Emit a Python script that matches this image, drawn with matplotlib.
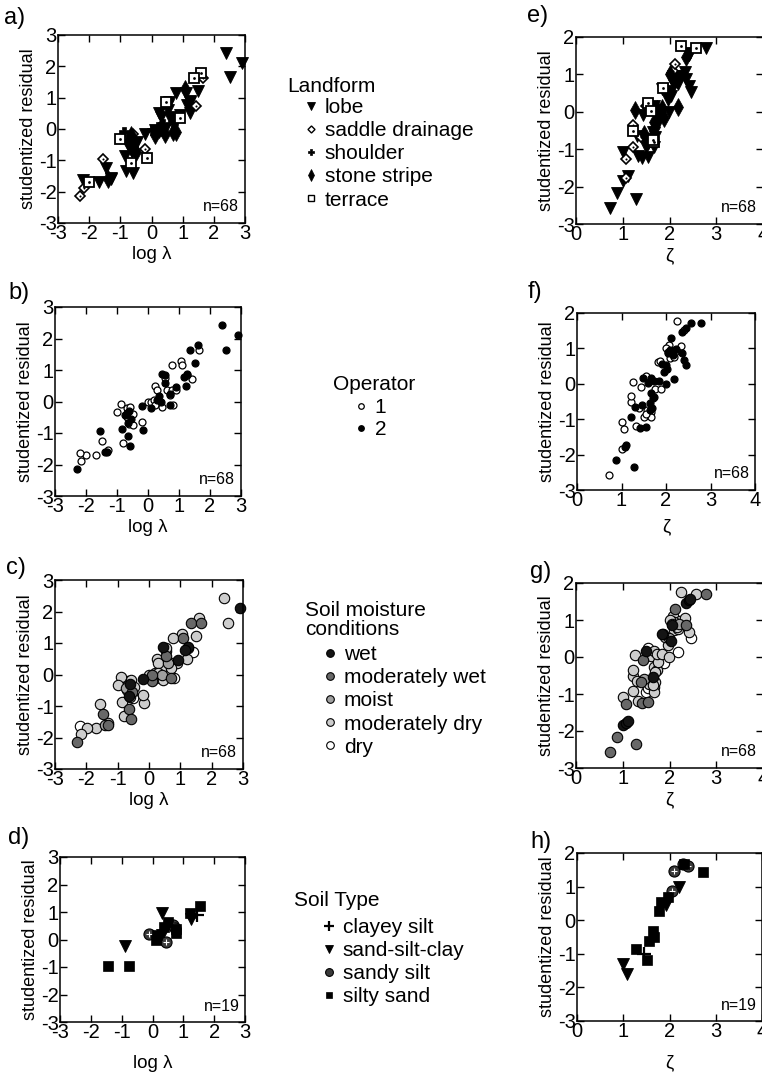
import matplotlib
matplotlib.use("Agg")
import matplotlib.pyplot as plt
from matplotlib.lines import Line2D
import numpy as np

plt.rcParams['font.family'] = ['Liberation Sans', 'DejaVu Sans']
plt.rcParams['axes.unicode_minus'] = False

# ---------------- data: studentized residual vs log(lambda), n=68 ----------------
log_lambda = [2.38, 2.90, 2.52, 1.60, 1.35, 1.50, 1.25, 1.15, 1.22, 0.46,
              0.54, 0.91, 0.70, 0.70, 0.37, 0.43, 0.10, -0.20, -0.16, -0.85,
              -0.65, -0.69, -0.61, -0.75, -0.65, -0.58, -1.55, -1.31, -1.39, -2.30,
              1.65, 1.06, 1.10, 0.78, 1.42, 0.54, 0.24, 0.29, 0.60, 0.76,
              0.90, 0.00, 0.10, 0.20, 0.23, 0.44, -0.88, -1.00, -0.67, -0.58,
              -0.47, -0.69, -0.61, -0.50, -0.20, -0.81, -1.47, -1.69, -1.99, -2.19,
              -2.16, 0.55, 1.25, 0.70, -0.55, -1.30, 0.30, 0.80]
resid_l = [2.42, 2.10, 1.65, 1.80, 1.62, 1.22, 0.88, 0.78, 0.50, 0.86,
           0.60, 0.46, 0.24, -0.11, 0.16, 0.00, -0.20, -0.15, -0.91, -0.87,
           -0.68, -0.38, -0.29, -0.42, -1.10, -1.40, -0.95, -1.59, -1.61, -2.13,
           1.64, 1.28, 1.15, 1.15, 0.72, 0.76, 0.50, 0.38, 0.35, 0.37,
           0.36, -0.03, -0.03, 0.06, -0.10, -0.16, -0.08, -0.32, -0.20, -0.17,
           -0.40, -0.50, -0.72, -0.74, -0.65, -1.33, -1.24, -1.69, -1.69, -1.64,
           -1.89, 0.85, 0.85, 0.20, -0.55, -1.55, 0.05, -0.10]
operator_l = [2] * 30 + [1] * 31 + [2, 1, 1, 2, 1, 2, 1]
landform_l = ['lobe', 'lobe', 'lobe', 'terrace', 'terrace', 'lobe', 'lobe', 'lobe', 'lobe', 'terrace',
              'lobe', 'lobe', 'lobe', 'stone stripe', 'shoulder', 'lobe', 'stone stripe', 'lobe', 'terrace', 'lobe',
              'lobe', 'shoulder', 'stone stripe', 'stone stripe', 'terrace', 'lobe', 'saddle drainage', 'lobe', 'stone stripe', 'saddle drainage',
              'saddle drainage', 'stone stripe', 'lobe', 'lobe', 'saddle drainage', 'lobe', 'lobe', 'lobe', 'lobe', 'lobe',
              'terrace', 'shoulder', 'lobe', 'shoulder', 'lobe', 'stone stripe', 'shoulder', 'terrace', 'stone stripe', 'saddle drainage',
              'lobe', 'lobe', 'lobe', 'stone stripe', 'saddle drainage', 'lobe', 'lobe', 'lobe', 'terrace', 'lobe',
              'saddle drainage', 'lobe', 'lobe', 'shoulder', 'lobe', 'lobe', 'stone stripe', 'stone stripe']
moisture_l = ['moderately dry', 'wet', 'moderately dry', 'moderately dry', 'moderately wet', 'moderately dry', 'wet', 'wet', 'moderately dry', 'wet',
              'moderately wet', 'wet', 'moderately dry', 'moderately wet', 'moderately dry', 'moist', 'moderately wet', 'wet', 'moderately dry', 'moderately dry',
              'wet', 'moderately dry', 'wet', 'moist', 'moderately wet', 'moderately wet', 'moderately dry', 'moderately wet', 'moist', 'moderately wet',
              'moderately wet', 'moderately dry', 'moderately wet', 'moderately dry', 'dry', 'moderately dry', 'moderately dry', 'moderately dry', 'moist', 'moderately dry',
              'moderately dry', 'moderately dry', 'moderately wet', 'moderately dry', 'moderately dry', 'moderately dry', 'moderately dry', 'moderately dry', 'dry', 'moderately dry',
              'moderately dry', 'dry', 'moderately dry', 'dry', 'moderately dry', 'moderately dry', 'moderately wet', 'moderately dry', 'moderately dry', 'dry',
              'moderately dry', 'moderately dry', 'dry', 'moderately dry', 'moderately wet', 'moderately dry', 'moderately dry', 'dry']

# ---------------- data: studentized residual vs zeta, n=68 ----------------
zeta = [0.72, 0.88, 1.00, 1.07, 1.11, 1.29, 1.00, 1.06, 1.21, 1.22,
        1.22, 1.26, 1.31, 1.33, 1.41, 1.39, 1.44, 1.49, 1.54, 1.50,
        1.55, 1.57, 1.60, 1.66, 1.66, 1.64, 1.66, 1.67, 1.69, 1.73,
        1.75, 1.73, 1.84, 1.89, 1.83, 1.87, 1.99, 1.96, 1.99, 2.03,
        2.05, 2.07, 2.12, 2.09, 2.16, 2.19, 2.23, 2.25, 2.19, 2.34,
        2.36, 2.35, 2.41, 2.44, 2.41, 2.46, 2.57, 2.79, 2.10, 2.20,
        1.70, 1.90, 2.00, 1.55, 1.65, 2.15, 1.45, 2.05]
resid_z = [-2.58, -2.16, -1.84, -1.78, -1.72, -2.34, -1.08, -1.27, -0.93, -0.52,
           -0.34, 0.05, -0.66, -1.19, -1.24, -0.68, -0.09, 0.16, 0.23, -0.95,
           -1.22, -0.74, 0.02, 0.16, -0.27, -0.54, -0.81, -0.95, -0.68, -0.36,
           -0.14, 0.07, 0.09, -0.16, 0.61, 0.63, 0.00, 0.32, 0.52, 0.42,
           0.86, 1.10, 1.29, 0.72, 0.87, 0.75, 0.97, 1.77, 0.14, 1.06,
           0.87, 1.46, 1.53, 1.58, 0.68, 0.52, 1.71, 1.71, 0.95, 0.90,
           -0.40, 0.55, 1.00, -0.85, -0.75, 0.80, -0.60, 0.90]
operator_z = [1, 2, 1, 2, 2, 2, 1, 1, 2, 1,
              1, 1, 2, 1, 2, 1, 1, 2, 1, 1,
              2, 1, 2, 2, 2, 2, 1, 1, 2, 2,
              1, 2, 2, 1, 1, 1, 2, 2, 2, 2,
              2, 1, 2, 1, 2, 1, 2, 1, 2, 1,
              2, 2, 1, 2, 2, 2, 2, 2, 2, 1,
              2, 2, 1, 1, 2, 2, 2, 1]
landform_z = ['lobe', 'lobe', 'lobe', 'saddle drainage', 'lobe', 'lobe', 'lobe', 'saddle drainage', 'saddle drainage', 'terrace',
              'saddle drainage', 'stone stripe', 'lobe', 'lobe', 'lobe', 'saddle drainage', 'lobe', 'saddle drainage', 'terrace', 'lobe',
              'lobe', 'lobe', 'terrace', 'lobe', 'stone stripe', 'lobe', 'terrace', 'lobe', 'lobe', 'lobe',
              'lobe', 'stone stripe', 'stone stripe', 'stone stripe', 'lobe', 'terrace', 'lobe', 'lobe', 'lobe', 'lobe',
              'lobe', 'saddle drainage', 'saddle drainage', 'lobe', 'stone stripe', 'lobe', 'lobe', 'terrace', 'stone stripe', 'lobe',
              'lobe', 'stone stripe', 'lobe', 'lobe', 'lobe', 'lobe', 'terrace', 'lobe', 'lobe', 'lobe',
              'stone stripe', 'lobe', 'stone stripe', 'lobe', 'terrace', 'lobe', 'stone stripe', 'lobe']
moisture_z = ['moderately wet', 'moderately wet', 'wet', 'wet', 'wet', 'moderately wet', 'moderately dry', 'moderately wet', 'moderately dry', 'moderately dry',
              'moderately dry', 'moderately dry', 'moderately dry', 'moderately dry', 'moderately wet', 'moderately wet', 'moderately wet', 'wet', 'dry', 'dry',
              'moderately wet', 'moderately dry', 'moderately dry', 'moderately dry', 'moderately dry', 'wet', 'moderately dry', 'moderately dry', 'moderately dry', 'moderately dry',
              'moderately dry', 'moderately dry', 'moderately dry', 'dry', 'wet', 'moderately wet', 'moderately dry', 'moderately dry', 'moist', 'wet',
              'wet', 'moderately dry', 'moderately wet', 'moderately dry', 'moderately dry', 'moderately dry', 'moderately dry', 'moderately dry', 'dry', 'moderately dry',
              'moderately wet', 'wet', 'wet', 'wet', 'moderately dry', 'dry', 'moderately dry', 'moderately wet', 'moderately dry', 'moist',
              'moderately dry', 'moderately dry', 'moderately dry', 'dry', 'moderately dry', 'moderately dry', 'moist', 'moderately dry']

# ---------------- data: soil type subset, n=19 ----------------
soil_types = ['clayey silt', 'sand-silt-clay', 'sandy silt', 'silty sand']
soil_type_19 = ['clayey silt'] + ['sand-silt-clay'] * 4 + ['sandy silt'] * 4 + ['silty sand'] * 10
log_lambda_19 = [1.45, -0.90, 0.30, 1.25, 0.30, -0.12, 0.45, 0.65, 0.72,
                 -1.45, -0.75, 0.10, 0.15, 0.38, 0.50, 0.75, 0.75, 1.20, 1.55]
resid_l_19 = [0.90, -0.23, 0.95, 0.75, 0.15, 0.20, -0.10, 0.52, 0.42,
              -0.96, -0.97, 0.00, 0.15, 0.45, 0.65, 0.25, 0.38, 0.97, 1.22]
zeta_19 = [1.45, 0.99, 1.08, 1.92, 2.21, 2.09, 2.05, 2.30, 2.41,
           1.27, 1.51, 1.55, 1.64, 1.67, 1.78, 1.82, 1.96, 2.73, 2.32]
resid_z_19 = [-1.00, -1.30, -1.60, 0.46, 0.98, 1.45, 0.88, 1.67, 1.62,
              -0.86, -1.18, -0.61, -0.31, -0.49, 0.28, 0.55, 0.70, 1.42, 1.66]

landforms = ['lobe', 'saddle drainage', 'shoulder', 'stone stripe', 'terrace']
operators = [1, 2]
moistures = ['wet', 'moderately wet', 'moist', 'moderately dry', 'dry']

# ---------------- styles ----------------
land_style = {
    'lobe': dict(marker='v', ms=8, mfc='black', mec='black', mew=0.6),
    'saddle drainage': dict(marker='D', ms=5.5, mfc='white', mec='black', mew=1.2),
    'shoulder': dict(marker='P', ms=7, mfc='black', mec='black', mew=0.5),
    'stone stripe': dict(marker='d', ms=9, mfc='black', mec='black', mew=0.5),
    'terrace': dict(marker='s', ms=7.5, mfc='white', mec='black', mew=1.3),
}
land_dot = {'saddle drainage': 1.5, 'terrace': 2.0}
op_style = {
    1: dict(marker='o', ms=5, mfc='white', mec='black', mew=0.9),
    2: dict(marker='o', ms=5, mfc='black', mec='black', mew=0.9),
}
moist_col = {'wet': '#141414', 'moderately wet': '#686868', 'moist': '#a0a0a0',
             'moderately dry': '#cdcdcd', 'dry': '#ffffff'}
soil_style = {
    'clayey silt': dict(marker='+', ms=10, mfc='black', mec='black', mew=1.6),
    'sand-silt-clay': dict(marker='v', ms=8, mfc='black', mec='black', mew=0.6),
    'sandy silt': dict(marker='o', ms=8, mfc='#3a3a3a', mec='black', mew=0.8),
    'silty sand': dict(marker='s', ms=6.5, mfc='black', mec='black', mew=0.5),
}

W, H = 762, 1074
fig = plt.figure(figsize=(W / 100, H / 100), dpi=100)


def ax_px(l, r, t, b):
    return fig.add_axes([l / W, 1 - b / H, (r - l) / W, (b - t) / H])


def style_axes(ax, xlim, ylim, xlabel, n, label, lab_xy, xlabel_pad=2):
    ax.set_xlim(*xlim)
    ax.set_ylim(*ylim)
    ax.set_xticks(range(xlim[0], xlim[1] + 1))
    ax.set_yticks(range(ylim[0], ylim[1] + 1))
    ax.tick_params(direction='in', top=True, right=True, length=5, width=1,
                   labelsize=14.5, pad=1, colors='black')
    for s in ax.spines.values():
        s.set_linewidth(1.1)
    ax.set_ylabel('studentized residual', fontsize=13, labelpad=1)
    ax.set_xlabel(xlabel, fontsize=13.5, labelpad=xlabel_pad)
    ax.text(0.97, 0.05, 'n=%d' % n, transform=ax.transAxes, ha='right', va='bottom', fontsize=11.5)
    fig.text(lab_xy[0] / W, 1 - lab_xy[1] / H, label, fontsize=17, ha='left', va='center')


def plot_landform(ax, xs, ys, cats):
    xs, ys, cats = np.array(xs), np.array(ys), np.array(cats)
    for lf in landforms:
        m = cats == lf
        ax.plot(xs[m], ys[m], ls='none', clip_on=False, **land_style[lf])
        if lf in land_dot:
            ax.plot(xs[m], ys[m], ls='none', marker='o', ms=land_dot[lf], mfc='black', mec='black', mew=0)


def plot_operator(ax, xs, ys, cats):
    xs, ys, cats = np.array(xs), np.array(ys), np.array(cats)
    for op in operators:
        m = cats == op
        ax.plot(xs[m], ys[m], ls='none', clip_on=False, **op_style[op])


def plot_moisture(ax, xs, ys, cats):
    xs, ys, cats = np.array(xs), np.array(ys), np.array(cats)
    for mo in moistures[::-1]:
        m = cats == mo
        ax.plot(xs[m], ys[m], ls='none', marker='o', ms=7.5, mfc=moist_col[mo], mec='black', mew=0.8,
                clip_on=False)


def plot_soil(ax, xs, ys, cats):
    xs, ys, cats = np.array(xs), np.array(ys), np.array(cats)
    for st in soil_types:
        m = cats == st
        ax.plot(xs[m], ys[m], ls='none', clip_on=False, **soil_style[st])
        if st == 'sandy silt':
            ax.plot(xs[m], ys[m], ls='none', marker='+', ms=5, mec='white', mew=0.8)


LOGL = 'log λ'
ZETA = 'ζ'

# left column
ax_a = ax_px(58, 245, 35, 223)
plot_landform(ax_a, log_lambda, resid_l, landform_l)
style_axes(ax_a, (-3, 3), (-3, 3), LOGL, 68, 'a)', (4, 18))

ax_b = ax_px(55, 241, 307, 496)
plot_operator(ax_b, log_lambda, resid_l, operator_l)
style_axes(ax_b, (-3, 3), (-3, 3), LOGL, 68, 'b)', (8, 293))

ax_c = ax_px(55, 243, 580, 769)
plot_moisture(ax_c, log_lambda, resid_l, moisture_l)
style_axes(ax_c, (-3, 3), (-3, 3), LOGL, 68, 'c)', (6, 568))

ax_d = ax_px(60, 245, 857, 1022)
plot_soil(ax_d, log_lambda_19, resid_l_19, soil_type_19)
style_axes(ax_d, (-3, 3), (-3, 3), LOGL, 19, 'd)', (8, 838), xlabel_pad=9)

# right column
ax_e = ax_px(576, 763, 37, 224)
plot_landform(ax_e, zeta, resid_z, landform_z)
style_axes(ax_e, (0, 4), (-3, 2), ZETA, 68, 'e)', (527, 16))

ax_f = ax_px(577, 755, 313, 490)
plot_operator(ax_f, zeta, resid_z, operator_z)
style_axes(ax_f, (0, 4), (-3, 2), ZETA, 68, 'f)', (528, 292), xlabel_pad=6)

ax_g = ax_px(576, 763, 583, 768)
plot_moisture(ax_g, zeta, resid_z, moisture_z)
style_axes(ax_g, (0, 4), (-3, 2), ZETA, 68, 'g)', (530, 572))

ax_h = ax_px(577, 762, 853, 1021)
plot_soil(ax_h, zeta_19, resid_z_19, soil_type_19)
style_axes(ax_h, (0, 4), (-3, 2), ZETA, 19, 'h)', (530, 842), xlabel_pad=9)


# ---------------- legends ----------------
def make_legend(title, title_xy, handles, labels, item_xy, spacing=0.25):
    fig.text(title_xy[0] / W, 1 - title_xy[1] / H, title, fontsize=15, ha='left', va='center',
             linespacing=1.0)
    leg = fig.legend(handles, labels, loc='upper left',
                     bbox_to_anchor=(item_xy[0] / W, 1 - item_xy[1] / H),
                     frameon=False, fontsize=15, handlelength=0.8, handletextpad=0.25,
                     borderpad=0, borderaxespad=0, labelspacing=spacing, numpoints=1)
    return leg


land_handles = []
for lf in landforms:
    st = dict(land_style[lf])
    st['ms'] = st['ms'] * 0.65
    st['mew'] = min(st['mew'], 1.0)
    land_handles.append(Line2D([], [], ls='none', **st))
make_legend('Landform', (287, 86), land_handles, landforms, (303, 98), spacing=0.2)

op_handles = []
for op in operators:
    st = dict(op_style[op])
    st['ms'] = 4
    op_handles.append(Line2D([], [], ls='none', **st))
make_legend('Operator', (333, 385), op_handles, ['1', '2'], (353, 398), spacing=0.15)

mo_handles = [Line2D([], [], ls='none', marker='o', ms=5.5, mfc=moist_col[m], mec='black', mew=0.8)
              for m in moistures]
fig.text(305 / W, 1 - 620 / H, 'Soil moisture\nconditions', fontsize=15, ha='left', va='center',
         linespacing=1.05)
fig.legend(mo_handles, moistures, loc='upper left', bbox_to_anchor=(322 / W, 1 - 645 / H),
           frameon=False, fontsize=15, handlelength=0.8, handletextpad=0.25,
           borderpad=0, borderaxespad=0, labelspacing=0.2, numpoints=1)

soil_handles = []
for stn in soil_types:
    st = dict(soil_style[stn])
    st['ms'] = st['ms'] * 0.7
    soil_handles.append(Line2D([], [], ls='none', **st))
make_legend('Soil Type', (294, 901), soil_handles, soil_types, (321, 918), spacing=0.2)

fig.savefig('out.png', dpi=100)
